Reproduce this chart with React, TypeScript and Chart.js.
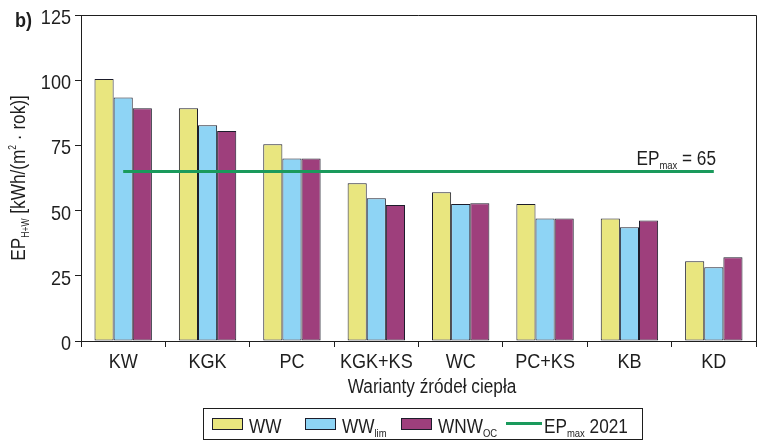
import React, { useEffect, useRef } from "react";
import { Chart, registerables } from "chart.js";

Chart.register(...registerables);

const categories = ["KW", "KGK", "PC", "KGK+KS", "WC", "PC+KS", "KB", "KD"];
const wwValues = [100.5, 89.2, 75.4, 60.5, 57.0, 52.5, 47.0, 30.6];
const wwLimValues = [93.4, 82.7, 70.0, 54.7, 52.5, 47.0, 43.6, 28.3];
const wnwOcValues = [89.2, 80.5, 70.0, 52.1, 52.8, 47.0, 46.2, 32.1];
const epMaxValues = [65, 65, 65, 65, 65, 65, 65, 65];
const yTicks = [0, 25, 50, 75, 100, 125];
const epMaxLevel = 65;

const seriesMain = ["WW", "WW", "WNW", "EP"];
const seriesSub = ["", "lim", "OC", "max"];
const seriesRest = ["", "", "", " 2021"];

const YELLOW = "#e9e67f";
const BLUE = "#8ed4f5";
const PURPLE = "#9e3f7c";
const GREEN = "#1a9a5c";
const EDGE = "#1d1d2b";
const INK = "#1e1e1e";

const FAMILY = "'Liberation Sans', Arial, sans-serif";
const SX = 0.86; // horizontal condensing of the text

type Part = { t: string; k: "n" | "sub" | "sup" };

function setFont(ctx: CanvasRenderingContext2D, size: number, bold = false) {
  ctx.font = `${bold ? "bold " : ""}${size}px ${FAMILY}`;
}

function textW(ctx: CanvasRenderingContext2D, t: string, size: number, bold = false) {
  setFont(ctx, size, bold);
  return ctx.measureText(t).width * SX;
}

function narrow(ctx: CanvasRenderingContext2D, t: string, x: number, y: number, size: number, align: "left" | "center" | "right" = "left", bold = false) {
  const w = textW(ctx, t, size, bold);
  let x0 = x;
  if (align === "center") x0 = x - w / 2;
  if (align === "right") x0 = x - w;
  ctx.save();
  ctx.translate(x0, y);
  ctx.scale(SX, 1);
  ctx.textAlign = "left";
  ctx.textBaseline = "alphabetic";
  setFont(ctx, size, bold);
  ctx.fillText(t, 0, 0);
  ctx.restore();
  return w;
}

function partsWidth(ctx: CanvasRenderingContext2D, parts: Part[], size: number, small: number) {
  let w = 0;
  for (const p of parts) w += textW(ctx, p.t, p.k === "n" ? size : small);
  return w;
}

function drawParts(ctx: CanvasRenderingContext2D, parts: Part[], x: number, y: number, size: number, small: number) {
  let cx = x;
  for (const p of parts) {
    const dy = p.k === "sub" ? Math.round(size * 0.22) : p.k === "sup" ? -Math.round(size * 0.45) : 0;
    cx += narrow(ctx, p.t, cx, y + dy, p.k === "n" ? size : small);
  }
  return cx;
}

const decorPlugin = {
  id: "decor",
  afterDraw(chart: any) {
    const ctx: CanvasRenderingContext2D = chart.ctx;
    const area = chart.chartArea;
    const yScale = chart.scales.y;
    const xScale = chart.scales.x;
    ctx.save();
    // frame top & right
    ctx.strokeStyle = INK;
    ctx.lineWidth = 1;
    ctx.beginPath();
    ctx.moveTo(area.left, Math.round(area.top) + 0.5);
    ctx.lineTo(Math.round(area.right) + 0.5, Math.round(area.top) + 0.5);
    ctx.lineTo(Math.round(area.right) + 0.5, area.bottom);
    ctx.stroke();

    ctx.fillStyle = INK;

    // panel label
    narrow(ctx, "b)", 15, 27, 21, "left", true);

    // y tick labels
    for (const v of yTicks) {
      const py = yScale.getPixelForValue(v);
      narrow(ctx, String(v), 71, py + 9, 21, "right");
    }

    // x tick labels
    categories.forEach((c, i) => {
      const px = xScale.getPixelForValue(i);
      narrow(ctx, c, px, 368, 21, "center");
    });

    // EPmax annotation
    const annParts: Part[] = [
      { t: "EP", k: "n" },
      { t: "max", k: "sub" },
      { t: " = " + epMaxLevel, k: "n" },
    ];
    const annW = partsWidth(ctx, annParts, 20, 11);
    const yLine = yScale.getPixelForValue(epMaxLevel);
    drawParts(ctx, annParts, 716 - annW, yLine - 6, 20, 11);

    // x title
    narrow(ctx, "Warianty źródeł ciepła", 432, 393, 20, "center");

    // y title
    const yParts: Part[] = [
      { t: "EP", k: "n" },
      { t: "H+W", k: "sub" },
      { t: " [kWh/(m", k: "n" },
      { t: "2", k: "sup" },
      { t: " · rok)]", k: "n" },
    ];
    const yW = partsWidth(ctx, yParts, 20, 10);
    ctx.save();
    ctx.translate(25, (area.top + area.bottom) / 2);
    ctx.rotate(-Math.PI / 2);
    drawParts(ctx, yParts, -yW / 2, 0, 20, 10);
    ctx.restore();

    // legend
    const boxL = 203.5, boxR = 642.5, boxT = 408.5, boxB = 439.5;
    ctx.strokeStyle = INK;
    ctx.lineWidth = 1;
    ctx.strokeRect(boxL, boxT, boxR - boxL, boxB - boxT);
    const itemX = [212, 305, 401, 506];
    const fills = [YELLOW, BLUE, PURPLE];
    for (let i = 0; i < seriesMain.length; i++) {
      const x = itemX[i];
      let tx = x + 37;
      if (i < 3) {
        ctx.fillStyle = fills[i];
        ctx.fillRect(x, 418, 31, 12);
        ctx.strokeStyle = EDGE;
        ctx.lineWidth = 1;
        ctx.strokeRect(x + 0.5, 418.5, 30, 11);
      } else {
        ctx.strokeStyle = GREEN;
        ctx.lineWidth = 3;
        ctx.beginPath();
        ctx.moveTo(x, 423.5);
        ctx.lineTo(x + 36, 423.5);
        ctx.stroke();
        ctx.lineWidth = 1;
        tx = x + 38;
      }
      ctx.fillStyle = INK;
      drawParts(ctx, [
        { t: seriesMain[i], k: "n" },
        { t: seriesSub[i], k: "sub" },
        { t: seriesRest[i], k: "n" },
      ], tx, 433, 20, 11);
    }
    ctx.restore();
  },
};

export default function App() {
  const ref = useRef<HTMLCanvasElement | null>(null);
  useEffect(() => {
    document.body.style.margin = "0";
    const canvas = ref.current;
    if (!canvas) return;
    const barCommon = {
      borderColor: EDGE,
      borderWidth: 1,
      borderSkipped: false,
      categoryPercentage: 0.68,
      barPercentage: 1.0,
      order: 1,
    };
    const chart = new Chart(canvas, {
      type: "bar",
      data: {
        labels: categories,
        datasets: [
          { ...barCommon, label: "WW", data: wwValues, backgroundColor: YELLOW },
          { ...barCommon, label: "WW lim", data: wwLimValues, backgroundColor: BLUE },
          { ...barCommon, label: "WNW OC", data: wnwOcValues, backgroundColor: PURPLE },
          {
            type: "line",
            label: "EP max 2021",
            data: epMaxValues,
            borderColor: GREEN,
            borderWidth: 3,
            pointRadius: 0,
            fill: false,
            order: 0,
          } as any,
        ],
      },
      options: {
        animation: false,
        responsive: false,
        maintainAspectRatio: false,
        layout: { padding: { left: 0, right: 7, top: 15, bottom: 0 } },
        plugins: {
          legend: { display: false },
          tooltip: { enabled: false },
          title: { display: false },
        },
        scales: {
          x: {
            offset: true,
            grid: {
              display: true,
              drawOnChartArea: false,
              drawTicks: true,
              tickLength: 6,
              color: INK,
              offset: true,
            },
            border: { display: true, color: INK, width: 1 },
            ticks: { display: false, autoSkip: false, maxRotation: 0 },
            afterFit: (s: any) => {
              s.height = 105;
            },
          },
          y: {
            min: 0,
            max: 125,
            grid: {
              display: true,
              drawOnChartArea: false,
              drawTicks: true,
              tickLength: 6,
              color: INK,
            },
            border: { display: true, color: INK, width: 1 },
            afterBuildTicks: (s: any) => {
              s.ticks = yTicks.map((v) => ({ value: v }));
            },
            ticks: { display: false },
            afterFit: (s: any) => {
              s.width = 81;
            },
          },
        },
      },
      plugins: [decorPlugin],
    });
    return () => chart.destroy();
  }, []);
  return (
    <div style={{ position: "absolute", left: 0, top: 0, width: 763, height: 446, background: "#fff" }}>
      <canvas ref={ref} width={763} height={446} style={{ display: "block" }} />
    </div>
  );
}
